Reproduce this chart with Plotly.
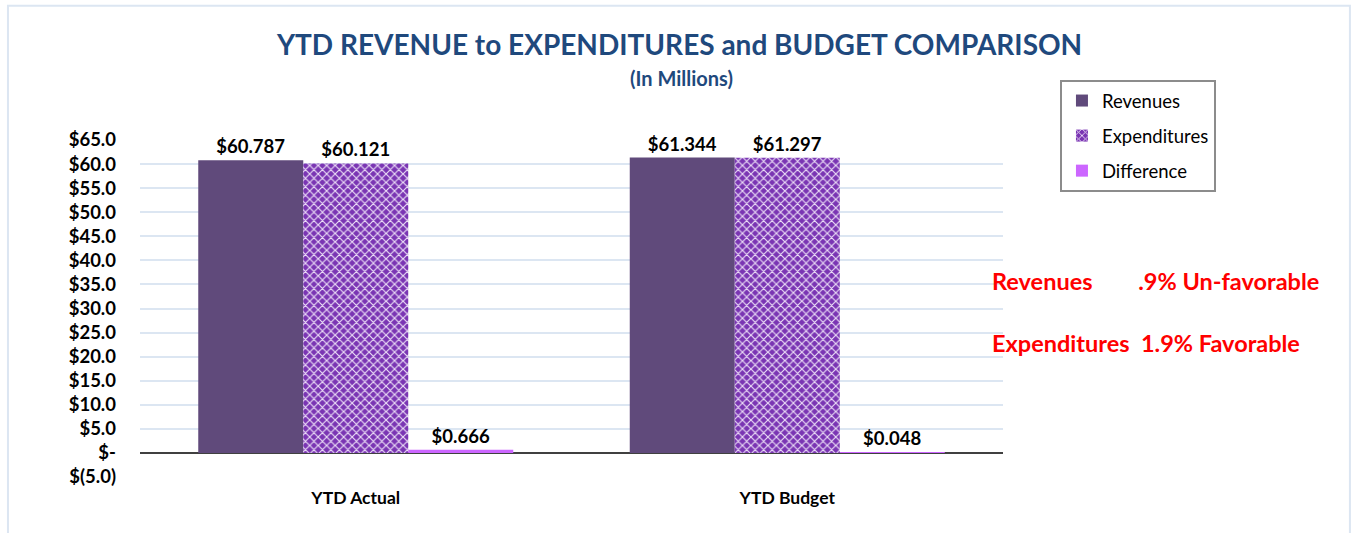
import plotly.graph_objects as go

# Data (in millions of dollars)
categories = ["YTD Actual", "YTD Budget"]
revenues = [60.787, 61.344]
expenditures = [60.121, 61.297]
difference = [0.666, 0.048]

y_ticks = [-5, 0, 5, 10, 15, 20, 25, 30, 35, 40, 45, 50, 55, 60, 65]
y_tick_labels = ["$(5.0)", "$-"] + [f"${v:.1f}" for v in y_ticks[2:]]

notes = [
    "Revenues\u00a0\u00a0\u00a0\u00a0\u00a0\u00a0\u00a0\u00a0.9% Un-favorable",
    "Expenditures\u00a0\u00a01.9% Favorable",
]

FONT = "Lato, 'Open Sans', sans-serif"
LABEL_FONT = dict(family=FONT, size=18.5, color="black")


def money(v):
    return f"<b>${v:.3f}</b>"


fig = go.Figure()
fig.add_trace(go.Bar(
    name="Revenues", x=categories, y=revenues,
    marker=dict(color="#604a7b", line=dict(width=0)),
    text=[money(v) for v in revenues], textposition="outside",
    textfont=LABEL_FONT, legendgroup="a",
))
fig.add_trace(go.Bar(
    name="Expenditures", x=categories, y=expenditures,
    marker=dict(color="#7a35b3", line=dict(width=0),
                pattern=dict(shape="x", fgcolor="#ecdff7", bgcolor="#7a35b3",
                             size=6, solidity=0.35, fillmode="replace")),
    text=[money(v) for v in expenditures], textposition="outside",
    textfont=LABEL_FONT, legendgroup="b",
))
fig.add_trace(go.Bar(
    name="Difference", x=categories, y=difference,
    marker=dict(color="#cc66ff", line=dict(width=0)),
    text=[money(v) for v in difference], textposition="outside",
    textfont=LABEL_FONT, legendgroup="c",
))

for i, note in enumerate(notes):
    fig.add_annotation(
        xref="paper", yref="paper", x=0.985, y=[0.582, 0.398][i],
        xanchor="left", yanchor="middle", showarrow=False,
        text=f"<b>{note}</b>",
        font=dict(family=FONT, size=23.5, color="#ff0000"),
    )

# subtitle
fig.add_annotation(
    xref="paper", yref="paper", x=0.6275, y=1.1845, xanchor="center",
    yanchor="middle", showarrow=False, text="<b>(In Millions)</b>",
    font=dict(family=FONT, size=20, color="#1f497d"),
)

# outer chart frame
fig.add_shape(
    type="rect", xref="paper", yref="paper",
    x0=-0.153, x1=1.402, y0=-0.25, y1=1.398,
    line=dict(color="#dce6f2", width=2), layer="below",
)

fig.update_layout(
    width=1351, height=533,
    margin=dict(l=140, r=348, t=140, b=56),
    paper_bgcolor="white", plot_bgcolor="white",
    barmode="group", bargap=0.27, bargroupgap=0,
    title=dict(
        text="<b>YTD REVENUE to EXPENDITURES and BUDGET COMPARISON</b>",
        x=0.503, xanchor="center", y=0.915, yanchor="middle",
        font=dict(family=FONT, size=28, color="#1f497d"),
    ),
    font=dict(family=FONT, color="black"),
    showlegend=True,
    legend=dict(
        x=1.066, y=1.178, xanchor="left", yanchor="top",
        bordercolor="#8c8c8c", borderwidth=2, bgcolor="white",
        font=dict(family=FONT, size=18.5, color="black"),
        tracegroupgap=8, itemwidth=30,
    ),
)

fig.update_xaxes(
    showgrid=False, showline=False, ticks="",
    tickfont=dict(family=FONT, size=17.5, color="black"),
    tickvals=categories, ticktext=[f"<b>{c}</b>" for c in categories],
    ticklabelstandoff=8,
)
fig.update_yaxes(
    range=[-5, 65], tickvals=y_ticks,
    ticktext=[f"<b>{t}</b>" for t in y_tick_labels],
    tickfont=dict(family=FONT, size=18.5, color="black"),
    showgrid=True, gridcolor="#dce6f2", gridwidth=2,
    zeroline=True, zerolinecolor="#404040", zerolinewidth=2,
    showline=False, ticks="", ticklabelstandoff=23,
)
fig.update_traces(cliponaxis=False)

fig.write_html("out.html")
